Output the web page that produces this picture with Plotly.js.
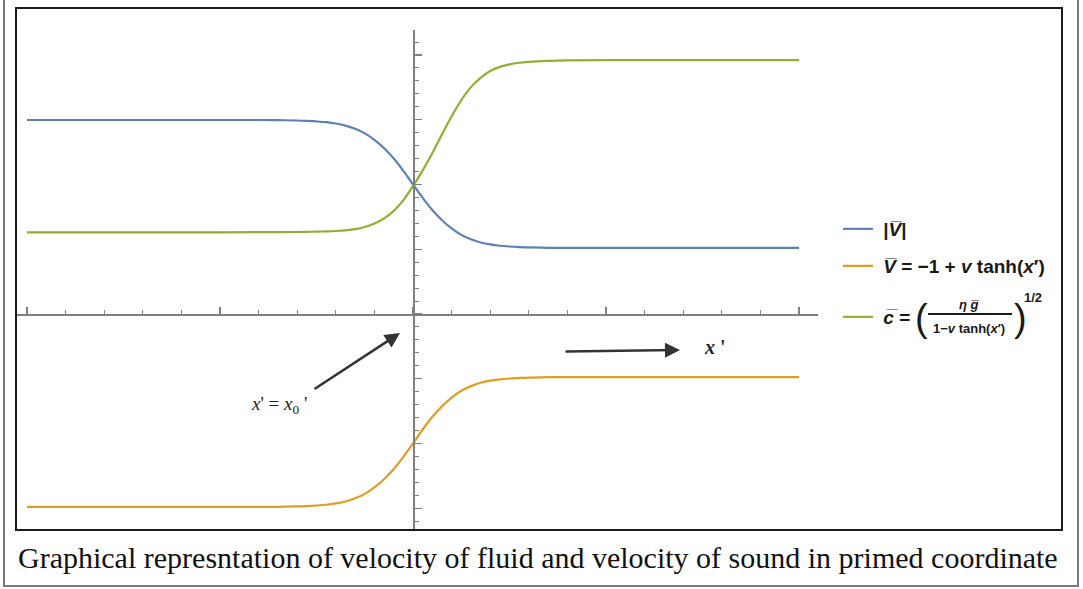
<!DOCTYPE html>
<html>
<head>
<meta charset="utf-8">
<script src="https://cdn.plot.ly/plotly-3.0.1.min.js"></script>
<style>html,body{margin:0;padding:0;background:#fff;}#chart{width:1083px;height:589px;}</style>
</head>
<body>
<div id="chart"></div>
<script>
// ---- data ----
const xPrime = [-10, -7, -5, -4, -3.5, -3, -2.75, -2.5, -2.25, -2, -1.75, -1.5, -1.25, -1, -0.75, -0.5, -0.25, 0,
                0.25, 0.5, 0.75, 1, 1.25, 1.5, 1.75, 2, 2.25, 2.5, 2.75, 3, 3.5, 4, 5, 7, 10];
const vAbs = [1.498, 1.498, 1.498, 1.498, 1.497, 1.494, 1.491, 1.487, 1.481, 1.471, 1.455, 1.43, 1.395, 1.345, 1.28, 1.2, 1.105, 1.0,
              0.897, 0.803, 0.724, 0.661, 0.611, 0.577, 0.552, 0.537, 0.527, 0.521, 0.517, 0.514, 0.511, 0.51, 0.51, 0.51, 0.51];
const vBar = [-1.49, -1.49, -1.49, -1.49, -1.489, -1.486, -1.483, -1.479, -1.473, -1.463, -1.448, -1.423, -1.389, -1.339, -1.276, -1.197, -1.103, -1.0,
              -0.892, -0.794, -0.712, -0.645, -0.593, -0.557, -0.531, -0.515, -0.505, -0.498, -0.494, -0.491, -0.488, -0.487, -0.487, -0.487, -0.487];
const cBar = [0.631, 0.631, 0.631, 0.632, 0.632, 0.633, 0.634, 0.636, 0.638, 0.641, 0.646, 0.655, 0.672, 0.698, 0.738, 0.796, 0.879, 0.989,
              1.109, 1.244, 1.387, 1.527, 1.652, 1.752, 1.824, 1.876, 1.908, 1.928, 1.94, 1.947, 1.954, 1.958, 1.96, 1.961, 1.961];
const seriesNames = [
  "\u00a0<b>|<i>V\u0305</i>|</b>",
  "\u00a0<b><i>V\u0305</i> = \u22121 + <i>v</i> tanh(<i>x</i>\u2032)</b>",
  "\u00a0<b><i>c\u0305</i> =</b>"
];
const captionText = "Graphical represntation of velocity of fluid and velocity of sound in primed coordinate";

// ---- geometry helpers (pixel -> paper) ----
const W = 1083, H = 589;
const L = 16, R = 1062, T = 8, B = 530;
const px = v => (v - L) / (R - L);
const py = v => (B - v) / (B - T);

const colors = ["#5E81B5", "#E19C24", "#8FB032"];
const ys = [vAbs, vBar, cBar];
const legends = ["legend", "legend2", "legend3"];
const traces = ys.map((y, i) => ({
  x: xPrime, y: y, type: "scatter", mode: "lines",
  line: {color: colors[i], width: 2.2, shape: "spline", smoothing: 1},
  name: seriesNames[i], legend: legends[i], hoverinfo: "skip"
}));

const axGray = "#808080";
const legFont = {family: "Liberation Sans, Arial, sans-serif", size: 19, color: "#1a1a1a"};
function leg(ypx) {
  return {x: px(838), y: py(ypx), xanchor: "left", yanchor: "middle",
          bgcolor: "rgba(0,0,0,0)", borderwidth: 0, font: legFont, itemwidth: 30};
}

const serif = "Liberation Serif, Times New Roman, serif";
const sans = "Liberation Sans, Arial, sans-serif";
const layout = {
  width: W, height: H,
  margin: {l: L, r: W - R, t: T, b: H - B, pad: 0},
  paper_bgcolor: "#fff", plot_bgcolor: "rgba(0,0,0,0)",
  showlegend: true,
  xaxis: {
    domain: [0, px(818)], range: [-10.285, 10.49], anchor: "free", position: py(314),
    showline: true, linecolor: axGray, linewidth: 1.5, zeroline: false, showgrid: false,
    ticks: "inside", tick0: 0, dtick: 5, ticklen: 7, tickwidth: 1.3, tickcolor: axGray,
    minor: {ticks: "inside", dtick: 1, ticklen: 4, tickwidth: 1, tickcolor: axGray, showgrid: false},
    showticklabels: false, fixedrange: true
  },
  yaxis: {
    domain: [0, py(30)], range: [-1.668, 2.193], anchor: "free", position: px(413),
    showline: true, linecolor: axGray, linewidth: 1.5, zeroline: false, showgrid: false,
    ticks: "inside", tick0: 0, dtick: 0.5, ticklen: 7, tickwidth: 1.3, tickcolor: axGray,
    minor: {ticks: "inside", dtick: 0.1, ticklen: 4, tickwidth: 1, tickcolor: axGray, showgrid: false},
    showticklabels: false, fixedrange: true
  },
  legend: leg(229),
  legend2: leg(266),
  legend3: leg(317),
  shapes: [
    {type: "rect", xref: "paper", yref: "paper", x0: 0, x1: 1, y0: 0, y1: 1,
     line: {color: "#1a1a1a", width: 2}},
    {type: "rect", xref: "paper", yref: "paper", x0: px(4), x1: px(1078), y0: py(586), y1: py(-4),
     line: {color: "#7a7a7a", width: 2}},
    // fraction bar in the third legend entry
    {type: "line", xref: "paper", yref: "paper", x0: px(928), x1: px(1012), y0: py(314), y1: py(314),
     line: {color: "#1a1a1a", width: 2}}
  ],
  annotations: [
    // caption
    {xref: "paper", yref: "paper", x: px(538), y: py(557), text: captionText, showarrow: false,
     font: {family: serif, size: 30, color: "#111"}, xanchor: "center", yanchor: "middle"},
    // fraction of the third legend entry
    {xref: "paper", yref: "paper", x: px(921), y: py(318), text: "(", showarrow: false,
     font: {family: sans, size: 38, color: "#1a1a1a"}, xanchor: "center", yanchor: "middle"},
    {xref: "paper", yref: "paper", x: px(1020), y: py(318), text: ")", showarrow: false,
     font: {family: sans, size: 38, color: "#1a1a1a"}, xanchor: "center", yanchor: "middle"},
    {xref: "paper", yref: "paper", x: px(969), y: py(304), text: "<b><i>\u03B7 g\u0305</i></b>", showarrow: false,
     font: {family: sans, size: 13, color: "#1a1a1a"}, xanchor: "center", yanchor: "middle"},
    {xref: "paper", yref: "paper", x: px(969), y: py(328), text: "<b>1\u2212<i>v</i> tanh(<i>x</i>\u2032)</b>", showarrow: false,
     font: {family: sans, size: 13, color: "#1a1a1a"}, xanchor: "center", yanchor: "middle"},
    {xref: "paper", yref: "paper", x: px(1033), y: py(297), text: "<b>1/2</b>", showarrow: false,
     font: {family: sans, size: 13, color: "#1a1a1a"}, xanchor: "center", yanchor: "middle"},
    // arrow toward x' = x0'
    {xref: "paper", yref: "paper", x: px(400), y: py(333), ax: -87, ay: 57, text: "", showarrow: true,
     arrowhead: 2, arrowsize: 1.2, arrowwidth: 2.5, arrowcolor: "#333", standoff: 0},
    {xref: "paper", yref: "paper", x: px(279), y: py(405), text: "<i>x</i>' = <i>x</i><sub>0</sub> '", showarrow: false,
     font: {family: serif, size: 19, color: "#222"}, xanchor: "center", yanchor: "middle"},
    // arrow along x'
    {xref: "paper", yref: "paper", x: px(680), y: py(350), ax: -116, ay: 1.5, text: "", showarrow: true,
     arrowhead: 2, arrowsize: 1.2, arrowwidth: 2.5, arrowcolor: "#333", standoff: 0},
    {xref: "paper", yref: "paper", x: px(715), y: py(347), text: "<b><i>x</i> '</b>", showarrow: false,
     font: {family: serif, size: 20, color: "#222"}, xanchor: "center", yanchor: "middle"}
  ]
};

Plotly.newPlot("chart", traces, layout, {staticPlot: true, displayModeBar: false});
</script>
</body>
</html>
